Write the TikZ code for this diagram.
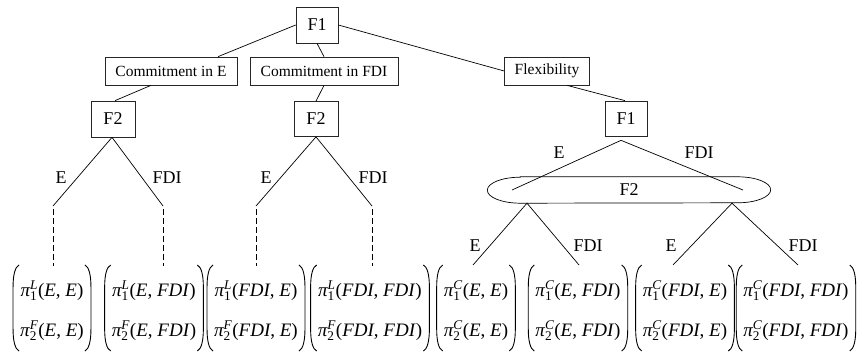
\RequirePackage{fix-cm}
\documentclass[tikz,border=0pt]{standalone}
\usepackage{amsmath}
\usepackage{fontspec}
\setmainfont{Liberation Serif}
\usetikzlibrary{calc}
\newcommand\myE{\textit{E}}
\newcommand\myF{\textit{FDI}}
\newcommand\pterm[3]{$\text{\itshape π}_{\text{1}}^{\text{\itshape #2}}$}
\newcommand\pt[3]{$\text{\itshape π}_{\text{#1}}^{\text{\itshape #2}}$(#3)}
\newcommand\mypay[2]{\renewcommand{\arraystretch}{2}\begin{tabular}{@{}c@{}}#1\\#2\end{tabular}}
\begin{document}
\begin{tikzpicture}[x=1pt,y=1pt,
  box/.style={draw=black!85,line width=0.7pt,inner sep=0pt,font=\fontsize{18}{20}\selectfont},
  lbox/.style={draw=black!85,line width=0.7pt,inner sep=0pt,minimum height=28pt,font=\fontsize{15.5}{18}\selectfont},
  edge/.style={line width=0.7pt},
  dedge/.style={line width=0.7pt,dash pattern=on 6pt off 3pt},
  paren/.style={line width=0.9pt},
  lab/.style={font=\fontsize{18}{20}\selectfont,inner sep=0pt},
  vec/.style={inner sep=0pt,font=\fontsize{19}{20}\selectfont}]
\useasboundingbox (0,0) rectangle (858,-355);

% boxes
\node[box,minimum width=42pt,minimum height=36pt] (f1) at (317,-25) {F1};
\node[lbox,minimum width=132pt] (ce) at (171,-71) {Commitment in E};
\node[lbox,minimum width=148pt] (cf) at (324,-71) {Commitment in FDI};
\node[lbox,minimum width=85pt] (fx) at (547,-71) {Flexibility};
\node[box,minimum width=44pt,minimum height=36pt] (f2a) at (113,-119) {F2};
\node[box,minimum width=44pt,minimum height=35pt] (f2b) at (316,-119) {F2};
\node[box,minimum width=42pt,minimum height=35pt] (f1r) at (626,-118.5) {F1};
\node[draw=none,minimum width=283pt,minimum height=26pt,inner sep=0pt,font=\fontsize{18}{20}\selectfont] (f2r) at (629,-190) {F2};
\draw[edge] ([xshift=33pt]f2r.north west) -- ([xshift=-33pt]f2r.north east)
  arc[start angle=90,end angle=-90,x radius=33pt,y radius=13pt]
  -- ([xshift=33pt]f2r.south west)
  arc[start angle=270,end angle=90,x radius=33pt,y radius=13pt] -- cycle;

% payoff vectors
\node[vec] (v1) at (52,-308) {\mypay{\pt{1}{L}{\myE, \myE}}{\pt{2}{F}{\myE, \myE}}};
\node[vec] (v2) at (154,-308) {\mypay{\pt{1}{L}{\myE, \myF}}{\pt{2}{F}{\myE, \myF}}};
\node[vec] (v3) at (256,-308) {\mypay{\pt{1}{L}{\myF, \myE}}{\pt{2}{F}{\myF, \myE}}};
\node[vec] (v4) at (370,-308) {\mypay{\pt{1}{L}{\myF, \myF}}{\pt{2}{F}{\myF, \myF}}};
\node[vec] (v5) at (476,-308) {\mypay{\pt{1}{C}{\myE, \myE}}{\pt{2}{C}{\myE, \myE}}};
\node[vec] (v6) at (578,-308) {\mypay{\pt{1}{C}{\myE, \myF}}{\pt{2}{C}{\myE, \myF}}};
\node[vec] (v7) at (685,-308) {\mypay{\pt{1}{C}{\myF, \myE}}{\pt{2}{C}{\myF, \myE}}};
\node[vec] (v8) at (796,-308) {\mypay{\pt{1}{C}{\myF, \myF}}{\pt{2}{C}{\myF, \myF}}};
\foreach \n in {1,...,8}{
  \begin{scope}[shift={(v\n.west)}]
    \draw[paren] (-1,43) .. controls (-5,41) and (-7,33) .. (-7,21) -- (-7,-21) .. controls (-7,-33) and (-5,-41) .. (-1,-43);
  \end{scope}
  \begin{scope}[shift={(v\n.east)}]
    \draw[paren] (1,43) .. controls (5,41) and (7,33) .. (7,21) -- (7,-21) .. controls (7,-33) and (5,-41) .. (1,-43);
  \end{scope}
}

% top level edges
\draw[edge] (f1.west) -- ([xshift=47pt]ce.north);
\draw[edge] (f1.south) -- (cf.north);
\draw[edge] (f1.east) -- (fx.west);
\draw[edge] ([xshift=-20pt]ce.south) -- ([xshift=2pt]f2a.north);
\draw[edge] (cf.south) -- (f2b.north);
\draw[edge] ([xshift=20pt]fx.south) -- ([xshift=-1pt]f1r.north);

% left subtree
\coordinate (l1) at (53,-206);
\coordinate (l2) at (163,-206);
\coordinate (d1) at (53,-266);
\coordinate (d2) at (163,-266);
\draw[edge] (l1) -- ([xshift=-1pt]f2a.south) -- (l2);
\draw[dedge] ([yshift=-3pt]l1) -- (d1);
\draw[dedge] ([yshift=-3pt]l2) -- (d2);
\node[lab] (la) at (61,-178) {E};
\node[lab] (lb) at (167,-178) {FDI};

% middle subtree
\coordinate (m1) at (256,-206);
\coordinate (m2) at (372,-206);
\coordinate (d3) at (256,-266);
\coordinate (d4) at (372,-266);
\draw[edge] (m1) -- (f2b.south) -- (m2);
\draw[dedge] ([yshift=-3pt]m1) -- (d3);
\draw[dedge] ([yshift=-3pt]m2) -- (d4);
\node[lab] (lc) at (266,-178) {E};
\node[lab] (ld) at (373,-178) {FDI};

% right subtree
\coordinate (ap) at ([xshift=-5pt,yshift=-4pt]f1r.south);
\coordinate (r1) at (512,-190);
\coordinate (r2) at (743,-190);
\draw[edge] (r1) -- (ap) -- (r2);
\node[lab] (le) at (559,-153) {E};
\node[lab] (lf) at (699,-153) {FDI};

\coordinate (p1) at ([xshift=-102pt]f2r.south);
\coordinate (p2) at ([xshift=103pt]f2r.south);
\coordinate (e5) at (473,-265);
\coordinate (e6) at (579,-265);
\coordinate (e7) at (673,-265);
\coordinate (e8) at (798,-265);
\draw[edge] (e5) -- (p1) -- (e6);
\draw[edge] (e7) -- (p2) -- (e8);
\node[lab] (lg) at (475,-246) {E};
\node[lab] (lh) at (588,-246) {FDI};
\node[lab] (li) at (671,-246) {E};
\node[lab] (lj) at (803,-246) {FDI};
\end{tikzpicture}
\end{document}
